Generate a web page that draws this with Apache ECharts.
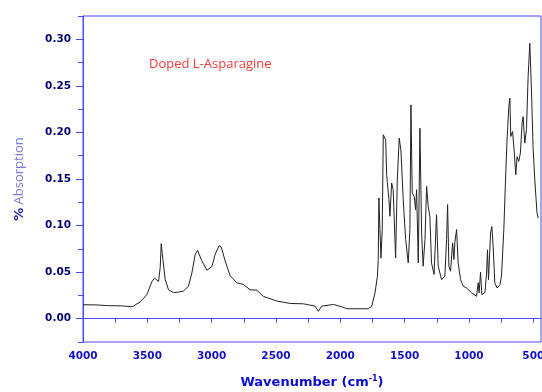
<!DOCTYPE html>
<html>
<head>
<meta charset="utf-8">
<script src="https://cdn.jsdelivr.net/npm/echarts@6/dist/echarts.min.js"></script>
<style>
  html, body { margin: 0; padding: 0; background: #fff; }
  #chart { width: 542px; height: 392px; }
</style>
</head>
<body>
<div id="chart"></div>
<script>
// IR spectrum (wavenumber in cm-1, absorption)
const wavenumbers = [
  4000, 3900, 3800, 3700, 3633, 3607, 3580, 3555, 3503, 3464, 3444, 3413, 3400, 3392, 3384,
  3361, 3335, 3297, 3260, 3219, 3180, 3154, 3128, 3110, 3076, 3037, 2998, 2973, 2942, 2926,
  2895, 2856, 2804, 2753, 2701, 2649, 2598, 2494, 2390, 2287, 2196, 2171, 2144, 2054, 1989,
  1950, 1782, 1756, 1730, 1722, 1712, 1705, 1700, 1692, 1684, 1674, 1666, 1647, 1640, 1622,
  1614, 1601, 1589, 1575, 1570, 1557, 1542, 1529, 1511, 1492, 1472, 1459, 1451, 1441, 1425,
  1415, 1407, 1394, 1381, 1368, 1356, 1342, 1329, 1317, 1304, 1291, 1271, 1252, 1239, 1213,
  1187, 1174, 1166, 1156, 1143, 1127, 1117, 1109, 1096, 1084, 1065, 1045, 1019, 980, 941,
  928, 921, 910, 900, 876, 863, 856, 848, 832, 822, 812, 799, 781, 760, 747,
  729, 713, 704, 690, 682, 675, 661, 649, 636, 626, 613, 600, 587, 579, 566,
  553, 540, 527, 514, 502, 488, 471, 462
];
const absorption = [
  0.0150, 0.0148, 0.0140, 0.0138, 0.0130, 0.0135, 0.0160, 0.0180, 0.0260, 0.0400, 0.0435, 0.0400, 0.0550, 0.0807, 0.0700,
  0.0420, 0.0310, 0.0280, 0.0285, 0.0296, 0.0350, 0.0490, 0.0690, 0.0735, 0.0620, 0.0520, 0.0560, 0.0690, 0.0785, 0.0770,
  0.0620, 0.0460, 0.0386, 0.0368, 0.0310, 0.0307, 0.0240, 0.0190, 0.0164, 0.0160, 0.0135, 0.0080, 0.0135, 0.0153, 0.0128,
  0.0107, 0.0107, 0.0135, 0.0280, 0.0300, 0.0450, 0.0635, 0.1296, 0.0957, 0.0650, 0.0960, 0.1975, 0.1920, 0.1546, 0.1280,
  0.1100, 0.1457, 0.1385, 0.0850, 0.0653, 0.1490, 0.1940, 0.1810, 0.1280, 0.0850, 0.0600, 0.0957, 0.2296, 0.1350, 0.1310,
  0.1170, 0.1385, 0.0600, 0.2046, 0.0920, 0.0564, 0.0850, 0.1420, 0.1207, 0.1100, 0.0600, 0.0475, 0.1117, 0.0564, 0.0420,
  0.0457, 0.0850, 0.1225, 0.0564, 0.0510, 0.0814, 0.0635, 0.0830, 0.0957, 0.0600, 0.0420, 0.0350, 0.0330, 0.0280, 0.0240,
  0.0386, 0.0280, 0.0500, 0.0260, 0.0280, 0.0490, 0.0740, 0.0420, 0.0920, 0.0990, 0.0780, 0.0386, 0.0330, 0.0360, 0.0457,
  0.0957, 0.1600, 0.1920, 0.2280, 0.2368, 0.1957, 0.2010, 0.1810, 0.1546, 0.1740, 0.1690, 0.1780, 0.2100, 0.2170, 0.1886,
  0.2030, 0.2600, 0.2957, 0.2457, 0.1850, 0.1490, 0.1136, 0.1080
];

const xLabels = [4000, 3500, 3000, 2500, 2000, 1500, 1000, 500];
const xTicks = [4000, 3750, 3500, 3250, 3000, 2750, 2500, 2250, 2000, 1750, 1500, 1250, 1000, 750, 500];
const yLabels = [0, 0.05, 0.10, 0.15, 0.20, 0.25, 0.30];
const yMinorTicks = [-0.025, 0.025, 0.075, 0.125, 0.175, 0.225, 0.275, 0.325];

const AXIS_BLUE = '#4a4aff';

const chart = echarts.init(document.getElementById('chart'), null, { renderer: 'canvas' });

chart.setOption({
  animation: false,
  title: {
    text: 'Doped L-Asparagine',
    left: 144,
    top: 53,
    textStyle: { color: '#ff3a3a', fontSize: 13, fontWeight: 'normal', fontFamily: 'Open Sans' }
  },
  grid: {
    left: 83, right: 1, top: 16, bottom: 50,
    outerBoundsMode: 'none',
    containLabel: false,
    show: true, borderColor: AXIS_BLUE, borderWidth: 1, backgroundColor: '#fff'
  },
  xAxis: {
    type: 'value',
    inverse: true,
    min: 440,
    max: 4000,
    splitLine: { show: false },
    axisLine: { lineStyle: { color: AXIS_BLUE } },
    axisTick: { customValues: xTicks, length: 4, lineStyle: { color: AXIS_BLUE } },
    axisLabel: {
      customValues: xLabels,
      margin: 9,
      color: '#1010c0',
      fontSize: 10.5,
      fontWeight: 'bold',
      fontFamily: 'DejaVu Sans',
      formatter: v => String(v)
    },
    name: 'Wavenumber (cm{sup|-1})',
    nameLocation: 'middle',
    nameGap: 33,
    nameTextStyle: {
      color: '#0a0ad0',
      fontSize: 13,
      fontWeight: 'bold',
      fontFamily: 'DejaVu Sans',
      rich: {
        sup: { fontSize: 8, fontWeight: 'bold', color: '#0a0ad0', verticalAlign: 'top', padding: [0, 0, 8, 0] }
      }
    }
  },
  yAxis: [
    {
      type: 'value',
      min: -0.025,
      max: 0.325,
      splitLine: { show: false },
      axisLine: { show: true, lineStyle: { color: AXIS_BLUE } },
      axisTick: { customValues: yMinorTicks, length: 5, lineStyle: { color: AXIS_BLUE } },
      axisLabel: {
        customValues: yLabels,
        margin: 12,
        color: '#000070',
        fontSize: 10.5,
        fontWeight: 'bold',
        fontFamily: 'DejaVu Sans',
        formatter: v => v.toFixed(2)
      },
      name: '{p|%} {a|Absorption}',
      nameLocation: 'middle',
      nameGap: 57,
      nameTextStyle: {
        rich: {
          p: { color: '#1a1ab0', fontSize: 13, fontWeight: 'bold', fontFamily: 'DejaVu Sans' },
          a: { color: '#7a7ae8', fontSize: 13, fontFamily: 'Open Sans' }
        }
      }
    },
    {
      // longer ticks on the labelled values
      type: 'value',
      min: -0.025,
      max: 0.325,
      position: 'left',
      splitLine: { show: false },
      axisLine: { show: false },
      axisLabel: { show: false },
      axisTick: { customValues: yLabels, length: 7, lineStyle: { color: AXIS_BLUE } }
    }
  ],
  series: [{
    type: 'line',
    showSymbol: false,
    lineStyle: { color: '#222', width: 1 },
    data: wavenumbers.map((w, i) => [w, absorption[i]])
  }]
});
</script>
</body>
</html>
